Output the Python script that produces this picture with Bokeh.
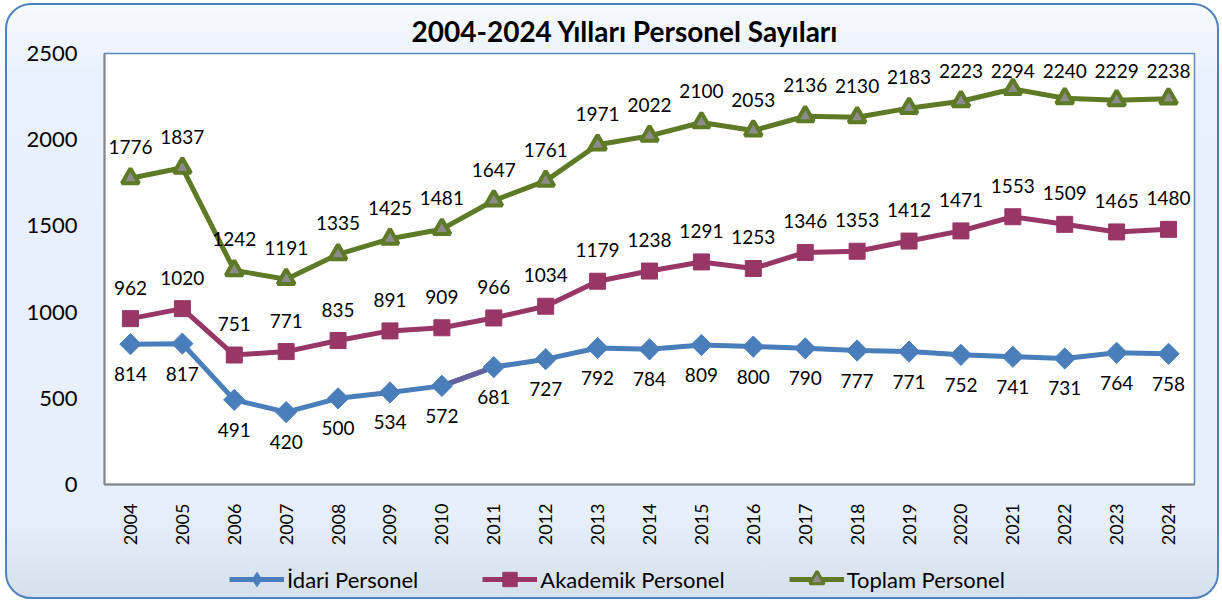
import math
from bokeh.plotting import figure
from bokeh.layouts import column
from bokeh.models import ColumnDataSource, LabelSet, Legend, LegendItem, FixedTicker
from bokeh.core.properties import value
from bokeh.embed import file_html
from bokeh.resources import INLINE

years = [str(y) for y in range(2004, 2025)]
idari = [814, 817, 491, 420, 500, 534, 572, 681, 727, 792, 784, 809, 800, 790, 777, 771, 752, 741, 731, 764, 758]
akademik = [962, 1020, 751, 771, 835, 891, 909, 966, 1034, 1179, 1238, 1291, 1253, 1346, 1353, 1412, 1471, 1553, 1509, 1465, 1480]
toplam = [1776, 1837, 1242, 1191, 1335, 1425, 1481, 1647, 1761, 1971, 2022, 2100, 2053, 2136, 2130, 2183, 2223, 2294, 2240, 2229, 2238]
y_ticks = [0, 500, 1000, 1500, 2000, 2500]
series_names = ["İdari Personel", "Akademik Personel", "Toplam Personel"]

BLUE = "#4A7EBB"
MAROON = "#983766"
GREEN = "#5F7A27"
FONT = "Lato"
# data labels near the top are kept inside the plot area (as the original chart does)
LABEL_CEIL = 2220

src = ColumnDataSource(dict(
    x=years, idari=idari, akademik=akademik, toplam=toplam,
    toplam_ly=[min(v, LABEL_CEIL) for v in toplam],
    idari_t=[str(v) for v in idari], akademik_t=[str(v) for v in akademik], toplam_t=[str(v) for v in toplam],
))

W = 1210
H_MAIN = 555
H_LEG = 37

p = figure(x_range=years, y_range=(0, 2500), width=W, height=H_MAIN,
           output_backend="svg", toolbar_location=None,
           min_border_left=97, min_border_right=23, min_border_top=48, min_border_bottom=76)
p.title.text = "2004-2024 Yılları Personel Sayıları"
p.title.align = "left"
p.title.offset = 307
p.title.text_font = FONT
p.title.text_font_size = "28px"
p.title.text_font_style = "bold"
p.title.text_color = "black"
p.title.standoff = 11

p.border_fill_color = None
p.background_fill_color = "white"
p.outline_line_color = "#5B87C5"
p.outline_line_width = 1.5
p.xgrid.grid_line_color = None
p.ygrid.grid_line_color = None

for ax in (p.xaxis[0], p.yaxis[0]):
    ax.axis_line_color = "#868686"
    ax.axis_line_width = 2
    ax.major_tick_line_color = None
    ax.minor_tick_line_color = None
    ax.major_label_text_font = FONT
    ax.major_label_text_color = "black"

p.yaxis.ticker = FixedTicker(ticks=y_ticks)
p.yaxis.major_label_text_font_size = "22px"
p.yaxis.major_label_standoff = 21
p.xaxis.major_label_text_font_size = "18px"
p.xaxis.major_label_orientation = math.pi / 2
p.xaxis.major_label_standoff = 13

# lines
p.line("x", "idari", source=src, line_color=BLUE, line_width=5)
# purple-tinted segment between 2010 and 2011 as in reference
p.segment(x0=[years[6]], y0=[idari[6]], x1=[years[7]], y1=[idari[7]], line_color="#65619E", line_width=5)
p.line("x", "akademik", source=src, line_color=MAROON, line_width=5)
p.line("x", "toplam", source=src, line_color=GREEN, line_width=5)

p.scatter("x", "idari", source=src, marker="square", angle=math.pi / 4, size=15,
          fill_color=BLUE, line_color=BLUE)
p.scatter("x", "akademik", source=src, marker="square", size=16,
          fill_color=MAROON, line_color=MAROON)
p.scatter("x", "toplam", source=src, marker="triangle", size=17,
          fill_color="#8C8C8C", line_color=GREEN, line_width=4)

lab_kw = dict(text_font=value(FONT), text_font_size="19px", text_color="black",
              text_align="center", text_baseline="middle")
p.add_layout(LabelSet(x="x", y="idari", text="idari_t", source=src, y_offset=-30, **lab_kw))
p.add_layout(LabelSet(x="x", y="akademik", text="akademik_t", source=src, y_offset=31, **lab_kw))
p.add_layout(LabelSet(x="x", y="toplam_ly", text="toplam_t", source=src, y_offset=31, **lab_kw))

# legend strip (separate figure so that the legend is not clipped by the plot frame);
# its proxy glyphs use the same series but lie outside this strip's visible range
pl = figure(width=W, height=H_LEG, x_range=(0, 1), y_range=(0, 1),
            output_backend="svg", toolbar_location=None,
            x_axis_location=None, y_axis_location=None,
            min_border_left=0, min_border_right=0, min_border_top=0, min_border_bottom=0)
pl.border_fill_color = None
pl.background_fill_color = None
pl.outline_line_color = None
pl.xgrid.grid_line_color = None
pl.ygrid.grid_line_color = None

idx = list(range(len(years)))
g1 = [pl.line(x=idx, y=idari, line_color=BLUE, line_width=5),
      pl.scatter(x=idx, y=idari, marker="diamond", fill_color=BLUE, line_color=BLUE)]
g2 = [pl.line(x=idx, y=akademik, line_color=MAROON, line_width=5),
      pl.scatter(x=idx, y=akademik, marker="square", fill_color=MAROON, line_color=MAROON)]
g3 = [pl.line(x=idx, y=toplam, line_color=GREEN, line_width=5),
      pl.scatter(x=idx, y=toplam, marker="triangle", fill_color="#8C8C8C", line_color=GREEN, line_width=3)]

legend = Legend(items=[
    LegendItem(label=series_names[0], renderers=g1),
    LegendItem(label=series_names[1], renderers=g2),
    LegendItem(label=series_names[2], renderers=g3),
], orientation="horizontal", location=(125, 0))
legend.background_fill_alpha = 0
legend.border_line_color = None
legend.padding = 0
legend.margin = 0
legend.spacing = 64
legend.glyph_width = 55
legend.glyph_height = 36
legend.label_standoff = 3
legend.label_text_font = FONT
legend.label_text_font_size = "22px"
legend.label_text_color = "black"
pl.add_layout(legend, "center")

layout = column(p, pl, spacing=0)
layout.styles = {
    "border": "2px solid #4F81BD",
    "border-radius": "26px",
    "background": "linear-gradient(to bottom, #F6F9FE 0%, #E8F1FC 12%, #E6EFFA 86%, #D6E0EB 100%)",
    "margin-left": "5px",
    "margin-top": "3px",
    "overflow": "hidden",
}

open("out.html", "w").write(file_html(layout, INLINE))
